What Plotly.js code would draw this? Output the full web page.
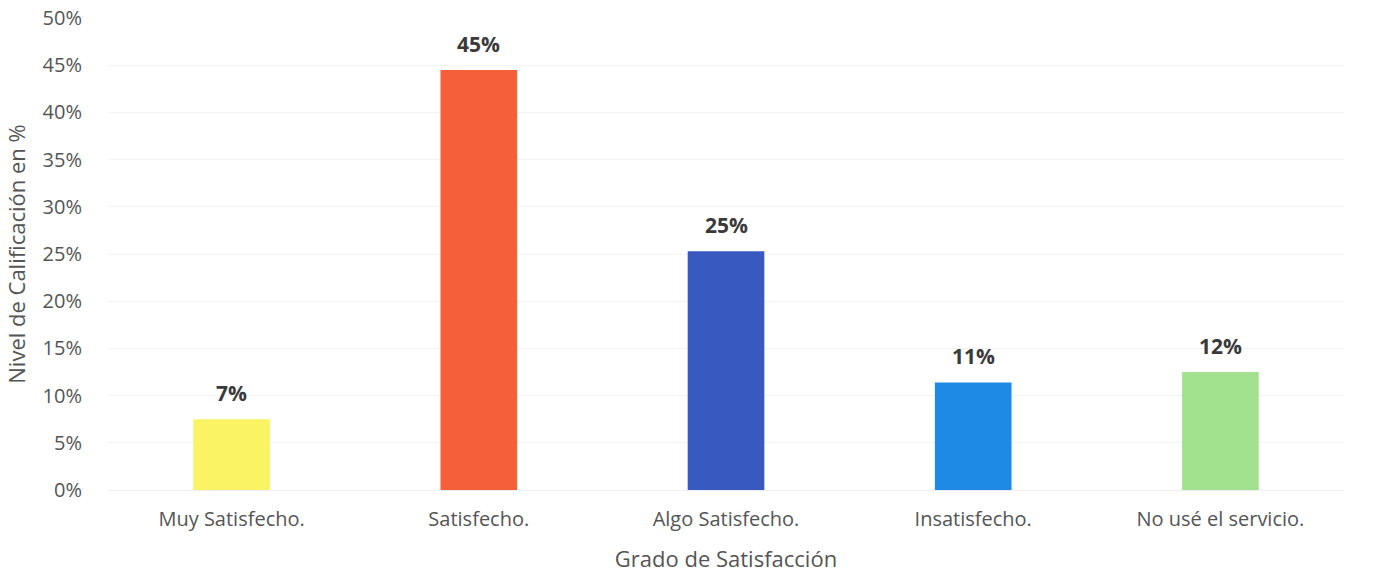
<!DOCTYPE html>
<html>
<head>
<meta charset="utf-8">
<script src="https://cdn.plot.ly/plotly-3.0.1.min.js"></script>
<style>html,body{margin:0;padding:0;background:#fff;}#chart{width:1379px;height:575px;}</style>
</head>
<body>
<div id="chart"></div>
<script>
const categories = ["Muy Satisfecho.", "Satisfecho.", "Algo Satisfecho.", "Insatisfecho.", "No usé el servicio."];
const values = [7.5, 44.5, 25.3, 11.4, 12.5];
const valueLabels = ["7%", "45%", "25%", "11%", "12%"];
const barColors = ["#faf464", "#f5603b", "#3759c0", "#1f8ae6", "#a2e28e"];
const yTickVals = [0, 5, 10, 15, 20, 25, 30, 35, 40, 45, 50];
const yTickText = ["0%", "5%", "10%", "15%", "20%", "25%", "30%", "35%", "40%", "45%", "50%"];

const font = "Open Sans, Noto Sans, sans-serif";

const trace = {
  type: "bar",
  x: categories,
  y: values,
  marker: {color: barColors},
  hoverinfo: "none"
};

const annotations = categories.map((c, i) => ({
  x: c, y: values[i], xref: "x", yref: "y",
  text: "<b>" + valueLabels[i] + "</b>",
  showarrow: false, yanchor: "bottom", yshift: 10,
  font: {family: font, size: 21, color: "#3a3a3a"}
}));

const layout = {
  width: 1379, height: 575,
  margin: {l: 108, r: 35, t: 18, b: 85},
  paper_bgcolor: "#ffffff", plot_bgcolor: "#ffffff",
  bargap: 0.69,
  showlegend: false,
  xaxis: {
    type: "category",
    tickfont: {family: font, size: 20, color: "#555555"},
    ticklabelstandoff: 15,
    showgrid: false, zeroline: false, showline: false, ticks: "",
    title: {text: "Grado de Satisfacción", font: {family: font, size: 22, color: "#555555"}, standoff: 20}
  },
  yaxis: {
    range: [0, 50],
    tickvals: yTickVals, ticktext: yTickText,
    tickfont: {family: font, size: 20, color: "#555555"},
    ticklabelstandoff: 25,
    showgrid: true, gridcolor: "#f3f3f3", gridwidth: 1,
    zeroline: true, zerolinecolor: "#eeeeee",
    showline: false, ticks: "",
    title: {text: "Nivel de Calificación en %", font: {family: font, size: 22, color: "#555555"}, standoff: 10}
  },
  annotations: annotations
};

Plotly.newPlot("chart", [trace], layout, {displayModeBar: false, staticPlot: true});
</script>
</body>
</html>
